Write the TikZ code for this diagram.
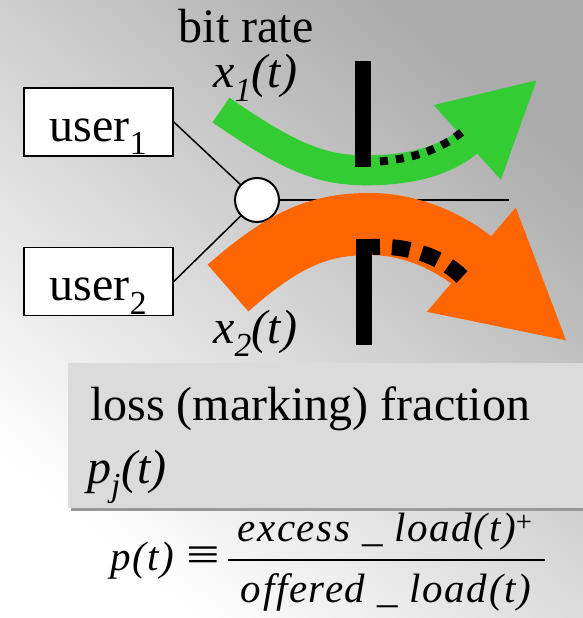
\documentclass[tikz,border=0pt]{standalone}
\usepackage{graphicx}
\usepackage{fontspec}
\setmainfont{Liberation Serif}
\usepackage{tikz}
\usetikzlibrary{arrows.meta}
\definecolor{flowgreen}{RGB}{51,204,51}
\definecolor{floworange}{RGB}{255,102,0}

\begin{document}
\begin{tikzpicture}[
  x=1pt, y=-1pt,
  user box/.style={draw, line width=1.5pt, fill=white, minimum width=149pt,
    minimum height=68pt, inner sep=0pt, text height=38pt, text depth=0pt,
    font=\fontsize{48}{52}\selectfont},
  hub/.style={circle, draw, fill=white, line width=2pt, minimum size=44pt, inner sep=0pt},
  link/.style={line width=1.5pt},
  big label/.style={font=\fontsize{48}{52}\selectfont, inner sep=0pt},
  formula/.style={font=\fontsize{41}{45}\selectfont\addfontfeatures{LetterSpace=4}, inner sep=0pt},
  green flow/.style={line width=30pt, flowgreen, -{Triangle[length=95pt,width=93pt]}},
  orange flow/.style={line width=62pt, floworange, -{Triangle[length=127pt,width=127pt]}},
  green loss/.style={line width=8pt, dash pattern=on 8pt off 8pt, dash phase=8pt},
  orange loss/.style={line width=16pt, dash pattern=on 18pt off 12pt, dash phase=10pt},
]

\useasboundingbox (0,0) rectangle (583,618);

% slide background
\shade[top color=gray!66, bottom color=white, shading angle=-40] (0,0) rectangle (583,618);

% users and the shared link
\node[user box] (user1) at (98.5,122) {user\textsubscript{1}};
\node[user box] (user2) at (98.5,281.5) {user\textsubscript{2}};
\node[hub] (hub) at (257,200) {};
\coordinate (out) at (509,200);

\draw[link] (user1.east) -- (hub);
\draw[link] (user2.east) -- (hub);
\draw[link] (hub) -- (out);

% flows
\draw[green flow] (221,110) .. controls (300,165) and (330,172) .. (380,170)
  .. controls (420,168) and (450,158) .. (538,79);
\draw[orange flow] (228,288) .. controls (285,238) and (320,224) .. (370,224)
  .. controls (420,224) and (460,250) .. (568,342);

% bottleneck bars
\fill (355,61) rectangle (371,167);
\fill (356,239) rectangle (372,345);

% lost traffic
\draw[green loss] (372,162) .. controls (410,160) and (440,150) .. (462,132);
\draw[orange loss] (372,247) .. controls (405,245) and (440,255) .. (462,277);

% rate labels
\node[big label, anchor=base] (rate) at (246,43) {bit rate};
\node[big label, anchor=base west] (x1) at (213,88) {\itshape x\textsubscript{1}(t)};
\node[big label, anchor=base west] (x2) at (213,343) {\itshape x\textsubscript{2}(t)};

% loss fraction box
\fill[gray!80] (71,366) rectangle (583,511);
\fill[gray!28] (68,363) rectangle (583,508);
\node[big label, anchor=base west] (loss) at (90,420) {loss (marking) fraction};
\node[big label, anchor=base west] (pj) at (87,483) {\itshape p\textsubscript{j}(t)};

% definition
\node[formula, anchor=base west] (pt) at (110,570) {\itshape p(t)};
\node[formula, anchor=base] (equiv) at (203,570) {\scalebox{1.45}[1.15]{≡}};
\node[formula, anchor=base] (num) at (385,541) {\itshape excess \_ load(t)\textsuperscript{\upshape +}};
\node[formula, anchor=base] (den) at (386,602) {\itshape offered \_ load(t)};
\draw[line width=1.6pt] (228,560) -- (545,560);

\end{tikzpicture}
\end{document}
